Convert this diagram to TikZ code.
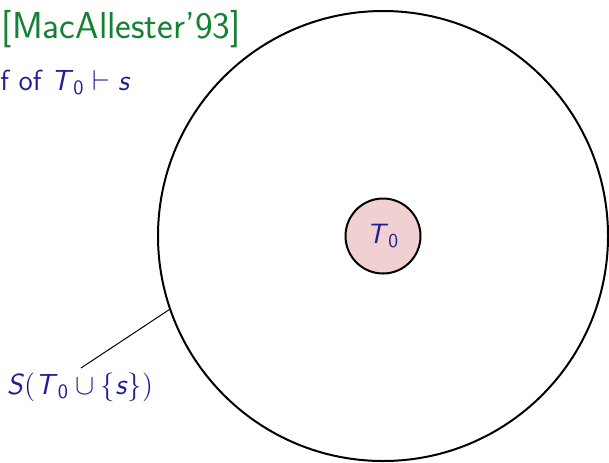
\documentclass[tikz,border=0pt]{standalone}
\usepackage{amsmath}
\usepackage{fontspec}
\definecolor{navy}{RGB}{30,30,150}
\definecolor{titlegreen}{RGB}{20,130,50}
\definecolor{pinkfill}{RGB}{240,208,208}
\newcommand\sv[1]{\textsf{\textit{#1}}}
\begin{document}
\begin{tikzpicture}[x=0.5pt,y=-0.5pt,
  bigring/.style={circle,draw=black,line width=1pt,minimum size=225pt,inner sep=0pt},
  smallring/.style={circle,draw=black,line width=1pt,fill=pinkfill,minimum size=37.5pt,inner sep=0pt,text=navy,font=\sffamily\fontsize{14}{16}\selectfont},
  navytext/.style={text=navy,font=\sffamily\fontsize{14.5}{17}\selectfont,inner sep=0pt},
  titletext/.style={text=titlegreen,font=\sffamily\fontsize{18.75}{22}\selectfont,inner sep=0pt}]
\useasboundingbox (0,0) rectangle (609,462);
\clip (0,0) rectangle (609,462);
\node[bigring] (big) at (383,236) {};
\node[smallring] (t0) at (383,236) {$\sv{T}_{\textsf{0}}$};
\node[titletext,anchor=base east] (title) at (241,38) {[MacAllester’93]};
\node[navytext,anchor=base east] (proof) at (131,90) {f of $\sv{T}_{\textsf{0}}\vdash \sv{s}$};
\node[navytext,anchor=base] (label) at (80,394) {$\sv{S}(\sv{T}_{\textsf{0}}\cup\{\sv{s}\})$};
\coordinate (lend) at (81,368);
\draw[line width=0.5pt] (big.199.7) -- (lend);
\end{tikzpicture}
\end{document}
